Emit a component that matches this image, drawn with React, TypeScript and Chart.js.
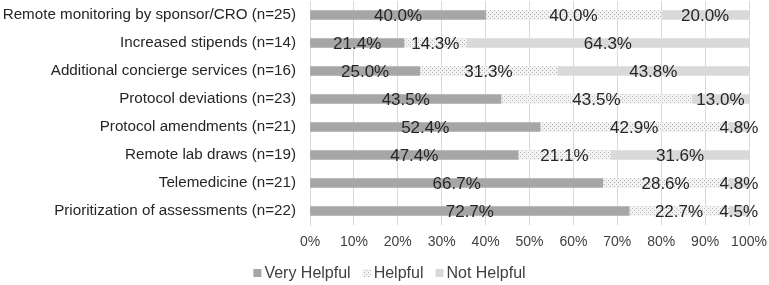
import React, { useEffect, useRef } from "react";
import { Chart, registerables } from "chart.js";

Chart.register(...registerables);

const categories = [
  "Remote monitoring by sponsor/CRO (n=25)",
  "Increased stipends (n=14)",
  "Additional concierge services (n=16)",
  "Protocol deviations (n=23)",
  "Protocol amendments (n=21)",
  "Remote lab draws (n=19)",
  "Telemedicine (n=21)",
  "Prioritization of assessments (n=22)",
];
const veryHelpful = [40.0, 21.4, 25.0, 43.5, 52.4, 47.4, 66.7, 72.7];
const helpful = [40.0, 14.3, 31.3, 43.5, 42.9, 21.1, 28.6, 22.7];
const notHelpful = [20.0, 64.3, 43.8, 13.0, 4.8, 31.6, 4.8, 4.5];
const seriesNames = ["Very Helpful", "Helpful", "Not Helpful"];
const xTicks = [0, 10, 20, 30, 40, 50, 60, 70, 80, 90, 100];

const FONT = "'Liberation Sans', Arial, sans-serif";

function makePattern(): CanvasPattern | string {
  const c = document.createElement("canvas");
  c.width = 4;
  c.height = 4;
  const ctx = c.getContext("2d");
  if (!ctx) return "#eeeeee";
  ctx.fillStyle = "#f2f2f2";
  ctx.fillRect(0, 0, 4, 4);
  ctx.fillStyle = "#b4b4b4";
  ctx.fillRect(0, 0, 1, 1);
  ctx.fillRect(2, 2, 1, 1);
  const p = ctx.createPattern(c, "repeat");
  return p || "#eeeeee";
}

const labelPlugin = {
  id: "segLabels",
  afterDatasetsDraw(chart: any) {
    const ctx = chart.ctx;
    ctx.save();
    ctx.font = `17px ${FONT}`;
    ctx.fillStyle = "#262626";
    ctx.textAlign = "center";
    ctx.textBaseline = "middle";
    chart.data.datasets.forEach((ds: any, di: number) => {
      const meta = chart.getDatasetMeta(di);
      meta.data.forEach((bar: any, i: number) => {
        const v = ds.data[i];
        const x = (bar.x + bar.base) / 2;
        ctx.fillText(v.toFixed(1) + "%", x, bar.y + 1.5);
      });
    });
    ctx.restore();
  },
};

const legendPlugin = {
  id: "customLegend",
  afterDraw(chart: any) {
    const ctx = chart.ctx;
    ctx.save();
    ctx.font = `16px ${FONT}`;
    ctx.textBaseline = "middle";
    ctx.textAlign = "left";
    const box = 8;
    const gapBox = 3;
    const gapItem = 12;
    const names = chart.data.datasets.map((d: any) => d.label);
    const widths = names.map((n: string) => box + gapBox + ctx.measureText(n).width);
    const total = widths.reduce((a: number, b: number) => a + b, 0) + gapItem * (names.length - 1);
    let x = chart.width / 2 + 5 - total / 2;
    const y = 273;
    chart.data.datasets.forEach((ds: any, i: number) => {
      ctx.fillStyle = ds.backgroundColor;
      ctx.fillRect(x, y - box / 2, box, box);
      ctx.fillStyle = "#404040";
      ctx.fillText(names[i], x + box + gapBox, y + 1);
      x += widths[i] + gapItem;
    });
    ctx.restore();
  },
};

export default function App() {
  const ref = useRef<HTMLCanvasElement>(null);
  useEffect(() => {
    document.body.style.margin = "0";
    const canvas = ref.current;
    if (!canvas) return;
    const pattern = makePattern();
    const chart = new Chart(canvas, {
      type: "bar",
      data: {
        labels: categories,
        datasets: [
          { label: seriesNames[0], data: veryHelpful, backgroundColor: "#a6a6a6", barThickness: 9 },
          { label: seriesNames[1], data: helpful, backgroundColor: pattern as any, barThickness: 9 },
          { label: seriesNames[2], data: notHelpful, backgroundColor: "#d9d9d9", barThickness: 9 },
        ],
      },
      options: {
        indexAxis: "y",
        animation: false,
        responsive: false,
        maintainAspectRatio: false,
        layout: { padding: { top: 1, right: 20, bottom: 33, left: 0 } },
        plugins: {
          tooltip: { enabled: false },
          legend: { display: false },
        },
        scales: {
          x: {
            stacked: true,
            min: 0,
            max: 100,
            afterBuildTicks: (axis: any) => {
              axis.ticks = xTicks.map((v) => ({ value: v }));
            },
            afterFit: (axis: any) => {
              axis.height = 27;
              axis.paddingLeft = 0;
              axis.paddingRight = 0;
            },
            ticks: {
              callback: (v: any) => v + "%",
              color: "#404040",
              font: { family: FONT, size: 14 },
              maxRotation: 0,
              padding: 9,
            },
            grid: { color: "#d9d9d9", drawTicks: false },
            border: { display: false },
          },
          y: {
            stacked: true,
            afterFit: (axis: any) => {
              axis.width = 310;
              axis.paddingTop = 0;
              axis.paddingBottom = 0;
            },
            ticks: {
              color: "#262626",
              font: { family: FONT, size: 15.2 },
              padding: 14,
            },
            grid: { display: false, drawTicks: false },
            border: { display: true, color: "#d9d9d9" },
          },
        },
      },
      plugins: [labelPlugin, legendPlugin],
    });
    return () => chart.destroy();
  }, []);
  return <canvas ref={ref} width={769} height={285} style={{ display: "block" }} />;
}
